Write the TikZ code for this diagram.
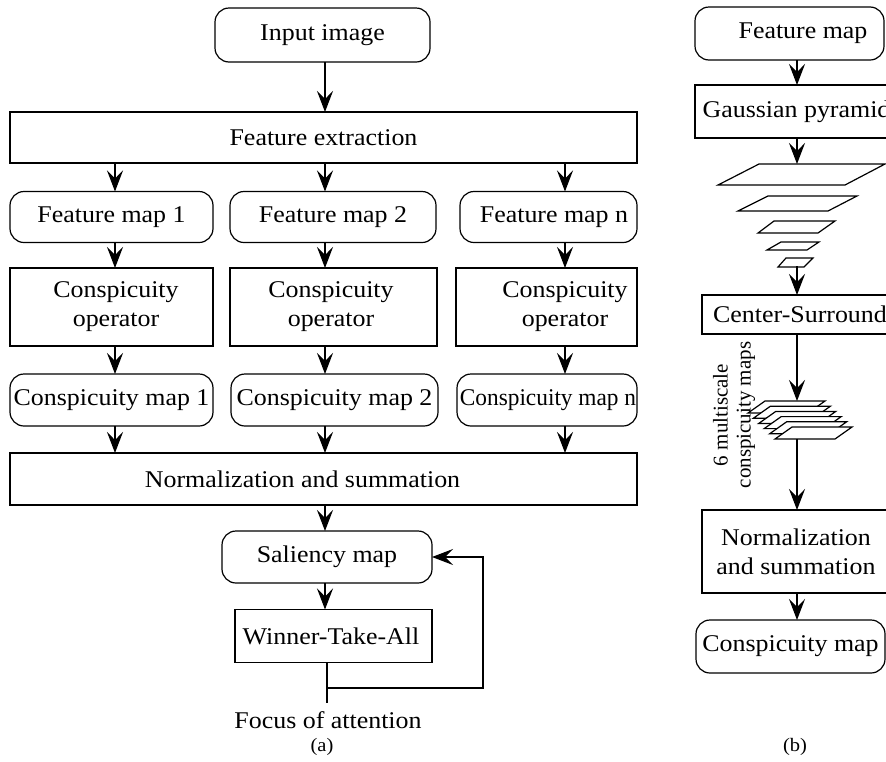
\documentclass[tikz,border=0pt]{standalone}
\usepackage{fontspec}
\setmainfont{Liberation Serif}[FakeStretch=1.08]
\newfontfamily\rotfont{Liberation Serif}
\usetikzlibrary{arrows.meta,calc}
\begin{document}
\begin{tikzpicture}[x=1pt,y=-1pt,
  every node/.style={font=\fontsize{24}{29}\selectfont, inner sep=0pt, outer sep=0pt},
  box/.style={draw, line width=1.2pt, rectangle},
  rbox/.style={draw, line width=1.2pt, rounded corners=14pt},
  link/.style={line width=1.2pt, -{Stealth[length=21pt,width=16pt,inset=8pt]}},
  plainline/.style={line width=1.2pt},
  layer/.style={draw, line width=1.2pt, fill=white, line join=miter},
  narrow/.style={xscale=0.9}]
\clip (0,0) rectangle (886,761);
\fill[white] (0,0) rectangle (886,761);

% column x positions
\coordinate (c1) at (115,0);
\coordinate (c2) at (325,0);
\coordinate (cn) at (565,0);

% ---------------- (a) ----------------
\node[rbox, minimum width=215, minimum height=54] (in) at (322.5,35) {Input image};
\node[box, minimum width=627, minimum height=51] (fe) at (323.5,137.5) {Feature extraction};

\node[rbox, minimum width=203, minimum height=51] (fm1) at (111.5,217) {Feature map 1};
\node[rbox, minimum width=206, minimum height=51] (fm2) at (333,217) {Feature map 2};
\node[rbox, minimum width=177, minimum height=51] (fmn) at (548.5,217) {};
\node (fmnt) at (554,217) {Feature map n};

\node[box, minimum width=203, minimum height=78] (co1) at (111.5,307) {};
\node[align=center] (co1t) at (116,307) {Conspicuity\\operator};
\node[box, minimum width=207, minimum height=78] (co2) at (333.5,307) {};
\node[align=center] (co2t) at (331,307) {Conspicuity\\operator};
\node[box, minimum width=181, minimum height=78] (con) at (546.5,307) {};
\node[align=center] (cont) at (565,307) {Conspicuity\\operator};

\node[rbox, minimum width=203, minimum height=52] (cm1) at (111.5,400) {Conspicuity map 1};
\node[rbox, minimum width=207, minimum height=52] (cm2) at (334.5,400) {Conspicuity map 2};
\node[rbox, minimum width=180, minimum height=52] (cmn) at (547,400) {};
\node[narrow] (cmnt) at (548,400) {Conspicuity map n};

\node[box, minimum width=627, minimum height=52] (ns) at (323.5,479) {};
\node (nst) at (302.5,479) {Normalization and summation};

\node[rbox, minimum width=210, minimum height=52] (sal) at (327,557) {Saliency map};
\node[box, minimum width=197, minimum height=53] (wta) at (333.5,636) {};
\node (wtat) at (331,636) {Winner-Take-All};

\coordinate (foc) at (327,703);
\coordinate (fbA) at (327,688);
\coordinate (fbB) at (483,688);
\coordinate (fbC) at (483,557);
\node (foct) at (328,720) {Focus of attention};
\node[font=\fontsize{19}{21}\selectfont] (la) at (322,747) {(a)};

% arrows (a)
\draw[link] (in.south -| c2) -- (fe.north -| c2);
\foreach \c/\f/\o/\m in {c1/fm1/co1/cm1, c2/fm2/co2/cm2, cn/fmn/con/cmn}{
  \draw[link] (fe.south -| \c) -- (\f.north -| \c);
  \draw[link] (\f.south -| \c) -- (\o.north -| \c);
  \draw[link] (\o.south -| \c) -- (\m.north -| \c);
  \draw[link] (\m.south -| \c) -- (ns.north -| \c);
}
\draw[link] (ns.south -| c2) -- (sal.north -| c2);
\draw[link] (sal.south -| c2) -- (wta.north -| c2);
\draw[plainline] (wta.south -| foc) -- (foc);
\draw[link] (fbA) -- (fbB) -- (fbC) -- (sal.east);

% ---------------- (b) ----------------
\coordinate (cb) at (797,0);
\node[rbox, minimum width=189, minimum height=53] (fmB) at (789.5,33.5) {};
\node (fmBt) at (803,33.5) {Feature map};
\node[box, minimum width=203, minimum height=53] (gp) at (796.5,111.5) {Gaussian pyramid};

% pyramid levels
\draw[layer] (718,185) -- (845,185) -- (885,164) -- (759,164) -- cycle;
\draw[layer] (738,211) -- (828,211) -- (857,196) -- (768,196) -- cycle;
\draw[layer] (758,233) -- (818,233) -- (835,221) -- (774,221) -- cycle;
\draw[layer] (767,250) -- (807,250) -- (819,242) -- (781,242) -- cycle;
\draw[layer] (778,267) -- (804,267) -- (813,258) -- (786,258) -- cycle;
\coordinate (pyrTop) at (797,164);
\coordinate (pyrBot) at (797,266);

\node[box, minimum width=196, minimum height=39] (cs) at (800,314.5) {Center-Surround};

% stack of 6 multiscale maps
\coordinate (stkTop) at (797,401);
\coordinate (stkBot) at (797,439);
\draw[link] (cs.south -| cb) -- (stkTop);
\foreach \i in {0,...,5}{
  \draw[layer, shift={(5.4*\i,5.2*\i)}] (748,413) -- (808,413) -- (825,401) -- (765,401) -- cycle;
}
\node[rotate=90, align=center, font=\rotfont\fontsize{21}{23}\selectfont] (rt) at (734,415) {6 multiscale\\conspicuity maps};

\node[box, minimum width=188, minimum height=83, align=center] (nsB) at (796,551.5) {Normalization\\and summation};
\node[rbox, minimum width=189, minimum height=53] (cmB) at (790.5,646.5) {Conspicuity map};
\node[font=\fontsize{19}{21}\selectfont] (lb) at (795,747) {(b)};

\draw[link] (fmB.south -| cb) -- (gp.north -| cb);
\draw[link] (gp.south -| cb) -- (pyrTop);
\draw[link] (pyrBot) -- (cs.north -| cb);
\draw[link] (stkBot) -- (nsB.north -| cb);
\draw[link] (nsB.south -| cb) -- (cmB.north -| cb);
\end{tikzpicture}
\end{document}
